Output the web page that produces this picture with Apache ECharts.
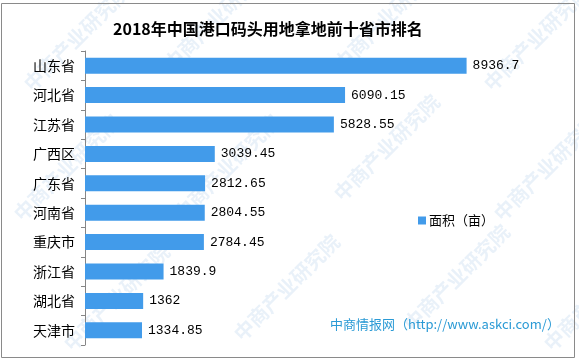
<!DOCTYPE html>
<html>
<head>
<meta charset="utf-8">
<script src="https://cdn.jsdelivr.net/npm/echarts@6/dist/echarts.min.js"></script>
<style>
html,body{margin:0;padding:0;background:#fff;}
#c{width:579px;height:361px;}
</style>
</head>
<body>
<div id="c"></div>
<script>
const titleText = '2018年中国港口码头用地拿地前十省市排名';
const categories = ['山东省','河北省','江苏省','广西区','广东省','河南省','重庆市','浙江省','湖北省','天津市'];
const areaValues = [8936.7, 6090.15, 5828.55, 3039.45, 2812.65, 2804.55, 2784.45, 1839.9, 1362, 1334.85];
const seriesName = '面积（亩）';
const sourceText = '中商情报网（http://www.askci.com/）';

const chart = echarts.init(document.getElementById('c'), null, {renderer:'canvas'});

const wm = [];
const wmPos = [[20,20],[160,0],[330,0],[480,20],[10,150],[170,150],[330,130],[490,150],[60,280],[230,270],[400,260],[540,280]];
wmPos.forEach(p => wm.push({
  type:'text', x:p[0], y:p[1]+60, rotation: Math.PI/4, silent:true, z:-1,
  style:{text:'中商产业研究院', fill:'rgba(120,170,215,0.16)', font:'bold 20px "Noto Sans CJK SC"'}
}));

chart.setOption({
  backgroundColor:'#fff',
  animation:false,
  title:{
    text:titleText, left:108, top:16,
    textStyle:{fontFamily:'"Noto Sans CJK SC"', fontSize:16, fontWeight:'bold', color:'#000'}
  },
  legend:{
    data:[seriesName], left:413, top:209, icon:'rect', itemWidth:8, itemHeight:8, itemGap:4,
    textStyle:{fontFamily:'"Noto Sans CJK SC"', fontSize:13, color:'#000', padding:[0,0,0,-2]}
  },
  grid:{left:85, top:51, bottom:16, right:67, containLabel:false},
  xAxis:{type:'value', min:0, max:10000, show:false},
  yAxis:{
    type:'category', data:categories, inverse:true,
    axisLine:{show:true, lineStyle:{color:'#868686', width:1}},
    axisTick:{show:true, length:4, lineStyle:{color:'#868686'}},
    axisLabel:{fontFamily:'"Noto Sans CJK SC"', fontSize:14, color:'#000', margin:10},
    splitLine:{show:false}
  },
  series:[{
    name:seriesName, type:'bar', data:areaValues, barWidth:16,
    itemStyle:{color:'#429BEA'},
    label:{show:true, position:'right', distance:6, color:'#000',
      fontFamily:'"Liberation Mono"', fontSize:13}
  }],
  graphic:[
    ...wm,
    {type:'rect', shape:{x:1.5, y:3.5, width:573, height:354}, style:{fill:'none', stroke:'#8a8a8a', lineWidth:1}, silent:true},
    {type:'text', x:330, y:318, style:{text:sourceText, fill:'#2A9AD5', font:'13px "Noto Sans CJK SC"'}}
  ]
});
</script>
</body>
</html>
